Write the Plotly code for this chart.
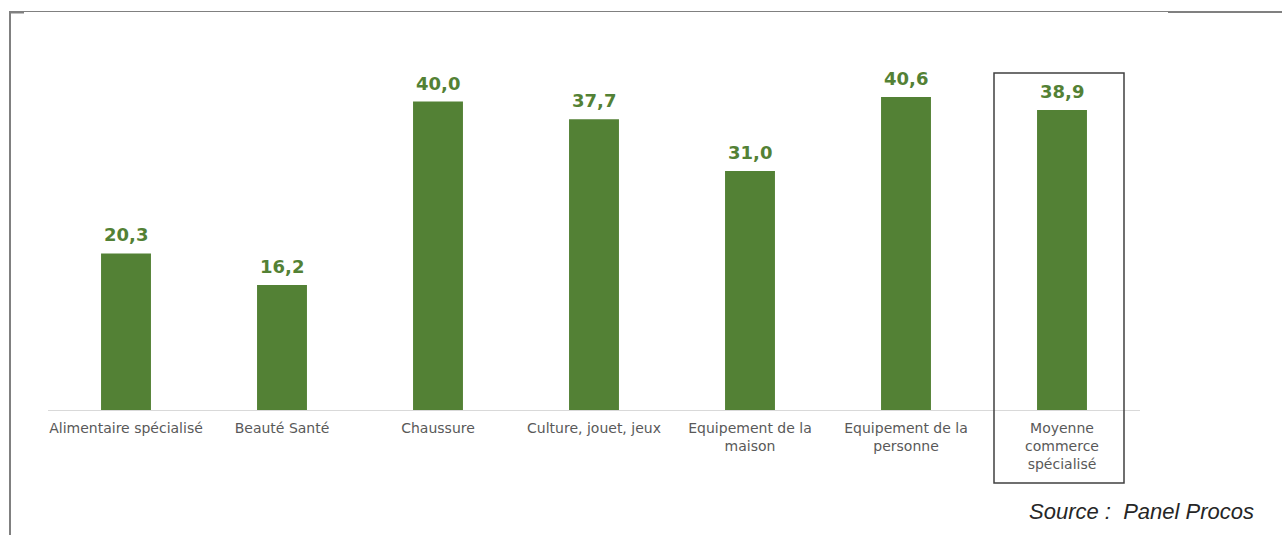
import plotly.graph_objects as go

categories = [
    "Alimentaire spécialisé",
    "Beauté Santé",
    "Chaussure",
    "Culture, jouet, jeux",
    "Equipement de la<br>maison",
    "Equipement de la<br>personne",
    "Moyenne<br>commerce<br>spécialisé",
]
values = [20.3, 16.2, 40.0, 37.7, 31.0, 40.6, 38.9]
value_labels = [f"{v:.1f}".replace(".", ",") for v in values]
source_text = "Source :  Panel Procos"

W, H = 1282, 535
L, R, T, B = 48, 142, 63, 125
plot_w = W - L - R
plot_h = H - T - B


def px_x(px):
    return (px - L) / plot_w


def px_y(py):
    return (H - B - py) / plot_h


green = "#538135"
xs = list(range(len(categories)))

fig = go.Figure(
    go.Bar(
        x=xs,
        y=values,
        marker=dict(color=green, line=dict(width=0)),
        width=0.32,
        hoverinfo="skip",
    )
)

# value labels sitting just above each bar
annotations = [
    dict(x=x, y=v, text=t, xref="x", yref="y", showarrow=False,
         xanchor="center", yanchor="bottom", yshift=6,
         font=dict(family="DejaVu Sans", size=18, color=green, weight="bold"))
    for x, v, t in zip(xs, values, value_labels)
]
annotations.append(
    dict(text=source_text, xref="paper", yref="paper", x=px_x(1256), y=px_y(511),
         xanchor="right", yanchor="middle", showarrow=False,
         font=dict(family="Liberation Sans", size=22, color="#262626", style="italic"))
)

shapes = [
    # outer frame: top rule, heavier right segment, left rule, corner stub
    dict(type="line", xref="paper", yref="paper", x0=px_x(10), x1=px_x(1168),
         y0=px_y(11.5), y1=px_y(11.5), line=dict(color="#808080", width=1)),
    dict(type="line", xref="paper", yref="paper", x0=px_x(1168), x1=px_x(1282),
         y0=px_y(12), y1=px_y(12), line=dict(color="#808080", width=2)),
    dict(type="line", xref="paper", yref="paper", x0=px_x(10), x1=px_x(10),
         y0=px_y(11), y1=px_y(535), line=dict(color="#808080", width=2)),
    dict(type="line", xref="paper", yref="paper", x0=px_x(10), x1=px_x(24),
         y0=px_y(12.5), y1=px_y(12.5), line=dict(color="#808080", width=2)),
    # highlight box around the average category
    dict(type="rect", xref="paper", yref="paper", x0=px_x(994), x1=px_x(1124),
         y0=px_y(483), y1=px_y(73), line=dict(color="#404040", width=1.5),
         fillcolor="rgba(0,0,0,0)"),
]

fig.update_layout(
    width=W,
    height=H,
    margin=dict(l=L, r=R, t=T, b=B),
    paper_bgcolor="white",
    plot_bgcolor="white",
    showlegend=False,
    shapes=shapes,
    annotations=annotations,
    xaxis=dict(
        tickmode="array",
        tickvals=xs,
        ticktext=categories,
        range=[-0.5, len(categories) - 0.5],
        showline=True,
        linecolor="#d9d9d9",
        linewidth=1,
        showgrid=False,
        zeroline=False,
        ticks="",
        tickangle=0,
        ticklabelstandoff=5,
        tickfont=dict(family="DejaVu Sans", size=14, color="#595959"),
    ),
    yaxis=dict(
        range=[0, 45],
        visible=False,
        showgrid=False,
        zeroline=False,
    ),
)

fig.write_html("out.html")
